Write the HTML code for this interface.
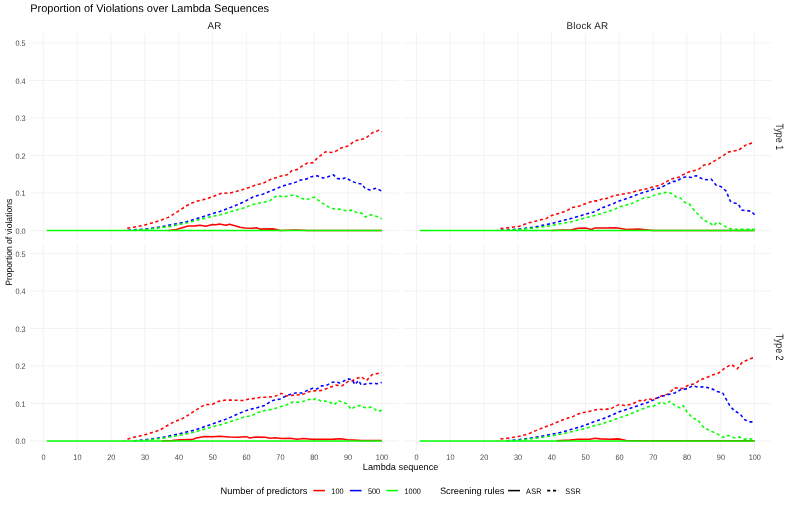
<!DOCTYPE html>
<html><head><meta charset="utf-8"><title>Proportion of Violations over Lambda Sequences</title>
<style>
html,body{margin:0;padding:0;background:#ffffff;}
body{width:793px;height:506px;position:relative;overflow:hidden;font-family:"Liberation Sans",sans-serif;}
</style></head><body>
<svg width="793" height="506" viewBox="0 0 793 506" style="display:block;position:absolute;left:0;top:0;will-change:transform;opacity:0.999" font-family="Liberation Sans, sans-serif" text-rendering="geometricPrecision">
<rect x="0" y="0" width="793" height="506" fill="#ffffff"/>
<path d="M30.00 230.52H398.50M30.00 193.01H398.50M30.00 155.50H398.50M30.00 118.00H398.50M30.00 80.49H398.50M30.00 42.98H398.50M43.37 33.60V239.90M77.20 33.60V239.90M111.04 33.60V239.90M144.88 33.60V239.90M178.72 33.60V239.90M212.56 33.60V239.90M246.40 33.60V239.90M280.23 33.60V239.90M314.07 33.60V239.90M347.91 33.60V239.90M381.75 33.60V239.90M403.00 230.52H771.30M403.00 193.01H771.30M403.00 155.50H771.30M403.00 118.00H771.30M403.00 80.49H771.30M403.00 42.98H771.30M416.36 33.60V239.90M450.18 33.60V239.90M484.00 33.60V239.90M517.82 33.60V239.90M551.64 33.60V239.90M585.46 33.60V239.90M619.28 33.60V239.90M653.10 33.60V239.90M686.92 33.60V239.90M720.74 33.60V239.90M754.56 33.60V239.90M30.00 440.93H398.50M30.00 403.44H398.50M30.00 365.95H398.50M30.00 328.45H398.50M30.00 290.96H398.50M30.00 253.47H398.50M43.37 244.10V450.30M77.20 244.10V450.30M111.04 244.10V450.30M144.88 244.10V450.30M178.72 244.10V450.30M212.56 244.10V450.30M246.40 244.10V450.30M280.23 244.10V450.30M314.07 244.10V450.30M347.91 244.10V450.30M381.75 244.10V450.30M403.00 440.93H771.30M403.00 403.44H771.30M403.00 365.95H771.30M403.00 328.45H771.30M403.00 290.96H771.30M403.00 253.47H771.30M416.36 244.10V450.30M450.18 244.10V450.30M484.00 244.10V450.30M517.82 244.10V450.30M551.64 244.10V450.30M585.46 244.10V450.30M619.28 244.10V450.30M653.10 244.10V450.30M686.92 244.10V450.30M720.74 244.10V450.30M754.56 244.10V450.30" stroke="#ebebeb" stroke-width="0.6" fill="none"/>
<g fill="none" stroke-width="1.55" stroke-linejoin="round">
<polyline points="124.58,230.52 127.96,228.08 136.42,226.77 144.88,225.01 153.34,222.65 161.46,220.02 168.23,217.39 175.00,213.27 181.43,209.14 186.50,205.77 191.58,203.14 196.65,201.27 203.08,199.77 212.56,196.76 220.00,193.76 223.39,192.86 228.12,193.39 236.58,191.36 246.40,188.51 256.55,184.76 262.98,183.34 271.44,179.14 280.23,176.36 287.34,174.63 292.08,170.51 297.49,169.38 303.24,165.33 307.31,163.01 313.06,162.74 317.12,158.24 325.58,151.75 331.33,152.50 335.39,151.38 341.14,148.00 347.91,145.94 355.02,140.88 362.12,139.15 366.18,137.76 371.94,133.00 379.04,130.26 381.75,131.87" stroke="#ff0000" stroke-dasharray="3.1 2.7" stroke-dashoffset="2.43"/>
<polyline points="168.23,230.41 175.00,229.87 181.43,228.01 188.19,226.02 194.96,225.87 200.04,225.35 205.79,226.17 212.56,224.52 215.94,224.67 219.33,224.03 225.76,225.35 229.48,224.18 233.20,225.35 239.97,227.15 245.04,228.01 253.16,228.35 256.55,227.67 259.93,229.12 273.13,228.87 280.23,230.41 296.48,230.10 307.31,230.41 381.75,230.41" stroke="#ff0000"/>
<polyline points="127.96,230.15 144.88,229.17 153.34,228.01 161.46,226.77 169.92,225.01 178.72,223.40 186.50,221.67 194.96,219.27 203.08,216.64 212.56,213.64 220.00,211.39 228.12,208.39 236.58,205.02 245.04,201.27 252.15,197.51 253.16,196.76 262.98,194.14 273.13,190.01 280.23,187.01 287.34,184.50 293.77,183.00 300.54,180.00 306.29,179.14 311.37,176.66 317.12,175.83 323.21,178.01 327.95,176.66 333.36,174.82 337.08,178.39 341.48,179.14 345.88,177.63 350.62,180.64 356.03,183.00 361.79,184.01 365.17,188.51 369.91,190.01 376.34,188.14 381.75,191.21" stroke="#0000ff" stroke-dasharray="3.1 2.7" stroke-dashoffset="0.01"/>
<polyline points="131.35,230.34 144.88,229.77 161.46,227.52 169.92,226.40 178.72,224.71 186.50,223.02 194.96,220.85 203.08,218.67 212.56,216.34 220.00,214.77 228.12,212.52 236.58,210.01 245.04,207.64 252.15,204.64 256.55,203.67 269.74,200.89 273.81,197.51 278.20,195.34 282.94,197.14 289.71,195.34 295.46,195.34 300.54,197.89 305.61,199.77 310.69,198.34 314.07,197.14 318.13,200.14 323.21,203.67 328.62,206.89 334.04,208.99 341.14,209.26 346.56,211.02 351.30,210.12 356.03,212.14 361.79,213.16 365.17,217.02 370.58,214.77 376.34,216.34 381.75,218.71" stroke="#00ff00" stroke-dasharray="3.1 2.7" stroke-dashoffset="3.40"/>
<polyline points="46.75,230.52 381.75,230.52" stroke="#00ff00"/>
</g>
<g fill="none" stroke-width="1.55" stroke-linejoin="round">
<polyline points="497.53,230.52 500.91,228.46 510.38,227.52 519.51,226.17 528.64,222.87 538.45,220.51 546.90,218.14 551.64,215.52 561.78,212.52 566.86,210.87 571.59,207.64 578.36,206.37 585.46,203.67 593.24,200.89 598.31,200.89 603.05,198.34 606.43,198.64 613.19,195.86 619.28,194.66 629.76,192.86 638.22,190.50 648.03,188.66 653.10,186.64 659.86,185.36 667.98,180.86 673.05,178.39 678.80,177.26 683.20,174.63 689.62,171.63 698.08,169.76 703.83,164.99 708.23,164.66 714.65,160.83 720.74,157.15 728.18,152.13 733.25,151.00 738.33,150.33 745.77,145.11 749.82,143.65 754.56,142.19" stroke="#ff0000" stroke-dasharray="3.1 2.7" stroke-dashoffset="2.39"/>
<polyline points="551.64,230.41 563.48,230.10 571.59,229.87 578.36,228.35 585.46,227.90 591.55,229.42 594.93,227.90 606.43,228.01 614.88,227.67 619.28,228.35 626.38,229.42 638.22,229.12 653.10,230.41 670.01,230.41 754.56,230.41" stroke="#ff0000"/>
<polyline points="500.91,230.34 507.00,230.04 517.82,229.17 528.64,227.90 538.45,226.17 551.64,223.40 561.78,220.85 571.59,218.37 578.36,216.34 585.46,214.17 593.24,212.14 603.05,207.53 613.19,203.67 619.28,200.89 629.76,197.51 638.22,194.14 646.34,191.66 653.10,189.26 659.86,188.02 666.29,184.76 673.05,181.39 676.43,181.39 681.51,178.01 686.92,176.66 691.32,177.52 696.05,175.68 703.15,179.32 708.56,179.89 711.27,179.14 716.00,184.95 721.08,186.64 726.15,191.14 730.38,201.27 734.27,202.95 738.16,203.78 741.71,210.08 746.78,210.79 751.18,211.21 754.56,214.77" stroke="#0000ff" stroke-dasharray="3.1 2.7" stroke-dashoffset="5.77"/>
<polyline points="504.29,230.34 517.82,229.77 538.45,227.52 551.64,225.53 561.78,223.40 571.59,221.67 585.46,217.84 593.24,215.89 603.05,213.01 613.19,210.01 619.28,207.00 631.45,203.67 642.95,198.34 649.72,197.14 656.48,194.14 661.55,193.39 667.30,192.00 672.38,193.76 676.43,197.14 680.49,198.00 684.89,202.50 689.62,204.27 695.04,211.39 699.77,215.89 703.83,220.40 709.58,222.57 713.64,225.83 717.02,222.27 723.11,225.05 728.18,228.46 734.27,229.21 754.56,229.28" stroke="#00ff00" stroke-dasharray="3.1 2.7" stroke-dashoffset="3.35"/>
<polyline points="419.74,230.52 754.56,230.52" stroke="#00ff00"/>
</g>
<g fill="none" stroke-width="1.55" stroke-linejoin="round">
<polyline points="124.58,440.93 127.96,438.94 136.42,436.73 144.88,434.63 153.34,432.23 159.77,430.13 168.23,425.03 175.00,421.39 181.43,419.26 188.19,415.13 194.96,410.63 200.04,407.64 204.78,404.71 212.56,404.26 218.31,401.37 224.74,400.14 233.20,400.14 243.35,400.51 249.78,398.90 254.86,398.38 261.29,397.21 268.05,397.21 274.82,396.39 281.25,393.39 286.33,395.90 294.79,395.04 302.23,394.74 307.98,392.04 314.07,390.88 321.52,390.54 327.95,388.14 335.73,385.14 342.16,385.82 347.91,381.50 352.31,380.75 356.71,378.58 361.45,376.82 366.52,380.57 371.94,374.76 377.35,373.59 381.75,372.69" stroke="#ff0000" stroke-dasharray="3.1 2.7" stroke-dashoffset="2.43"/>
<polyline points="161.80,440.93 171.95,440.55 180.41,439.88 192.26,439.62 196.32,437.97 204.44,436.50 212.90,436.84 219.33,436.35 229.14,436.99 237.26,437.18 246.40,436.65 249.78,437.97 255.53,436.99 265.35,437.18 270.08,438.15 275.16,437.67 281.59,438.45 290.05,438.15 297.15,439.20 303.24,438.49 311.37,439.35 322.53,439.35 334.04,439.13 340.81,438.79 347.57,439.69 353.33,440.03 361.45,440.48 381.75,440.48" stroke="#ff0000"/>
<polyline points="131.35,440.74 136.42,440.63 144.88,439.73 153.34,438.75 161.46,437.63 169.92,435.87 178.72,433.88 186.50,432.00 194.96,430.13 203.08,427.21 212.56,423.87 220.00,421.21 228.12,418.40 236.58,414.53 245.04,410.90 252.15,408.87 254.86,408.39 264.67,405.54 271.44,400.89 280.23,398.90 288.02,395.04 295.46,392.90 302.23,393.01 307.98,390.01 313.06,388.14 317.12,388.89 321.52,385.89 326.26,385.40 332.35,382.22 336.41,382.14 339.79,383.04 344.87,380.45 348.59,378.88 352.31,379.82 355.02,384.69 358.40,380.49 361.45,385.07 366.86,383.57 373.63,383.42 377.35,383.75 381.75,382.44" stroke="#0000ff" stroke-dasharray="3.1 2.7" stroke-dashoffset="3.40"/>
<polyline points="131.35,440.74 144.88,440.36 161.46,438.38 169.92,437.03 178.72,435.53 186.50,433.88 194.96,432.00 203.08,429.53 212.56,426.76 220.00,425.03 228.12,422.26 236.58,419.63 245.04,416.71 251.47,415.88 257.90,412.55 266.36,410.03 273.13,409.21 280.23,406.74 286.33,405.01 293.09,402.01 299.86,402.24 304.60,400.89 309.00,399.24 313.06,399.76 316.44,398.38 320.50,400.89 328.29,401.45 334.38,404.64 338.10,400.62 346.73,403.81 351.30,409.43 354.85,406.62 360.09,405.50 364.83,407.64 371.94,407.19 378.03,411.53 381.75,410.18" stroke="#00ff00" stroke-dasharray="3.1 2.7" stroke-dashoffset="3.40"/>
<polyline points="46.75,440.93 381.75,440.93" stroke="#00ff00"/>
</g>
<g fill="none" stroke-width="1.55" stroke-linejoin="round">
<polyline points="497.53,440.93 500.91,438.90 507.33,438.27 513.42,437.33 519.51,436.20 528.64,433.73 538.45,429.53 546.90,426.23 551.64,424.51 560.09,420.87 566.86,418.40 573.28,416.37 581.74,412.55 586.47,412.21 593.24,410.37 598.31,409.21 604.74,409.51 611.50,408.39 618.94,404.64 624.69,405.54 631.45,404.26 639.91,400.40 642.95,401.37 647.35,398.90 653.10,399.54 661.55,395.90 667.98,393.88 674.74,387.88 683.20,388.40 688.95,384.77 694.70,383.90 699.77,380.04 706.53,377.64 712.96,374.72 718.03,373.44 724.46,368.38 731.22,364.45 737.31,368.76 742.38,362.20 746.78,360.32 752.19,358.07 754.56,358.30" stroke="#ff0000" stroke-dasharray="3.1 2.7" stroke-dashoffset="2.39"/>
<polyline points="556.71,440.81 569.90,440.13 578.36,439.20 589.86,439.20 595.27,438.23 600.00,438.87 609.81,439.20 618.26,438.87 626.38,440.43 642.95,440.73 659.86,440.81 674.74,440.81 686.92,440.81 754.56,440.81" stroke="#ff0000"/>
<polyline points="504.29,440.74 510.38,440.63 517.82,439.73 528.64,438.38 538.45,436.73 551.64,434.25 561.78,432.23 571.59,429.23 578.36,427.51 585.46,425.03 593.24,422.03 603.05,418.73 613.19,414.53 619.28,411.76 629.76,408.39 639.91,405.01 647.35,402.54 653.10,400.14 659.86,396.76 666.29,395.04 674.74,393.01 681.51,389.26 686.92,388.89 692.33,385.89 698.08,387.02 704.84,386.83 710.93,388.33 717.36,391.44 722.77,393.13 726.83,400.44 730.21,406.32 734.61,410.93 740.02,413.93 744.75,419.78 749.82,421.88 754.56,421.88" stroke="#0000ff" stroke-dasharray="3.1 2.7" stroke-dashoffset="3.35"/>
<polyline points="504.29,440.74 517.82,440.36 538.45,437.89 551.64,435.87 561.78,433.88 571.59,431.70 585.46,428.37 593.24,425.89 603.05,423.38 613.19,420.01 619.28,417.87 629.76,414.23 639.91,410.03 648.03,406.74 653.10,406.21 661.22,402.01 666.29,404.26 669.67,401.37 674.07,404.64 679.82,407.90 683.20,405.54 686.92,411.76 693.01,418.40 697.40,419.44 703.83,427.51 710.59,431.03 717.36,433.88 723.44,437.40 728.52,435.49 734.27,437.85 739.34,437.07 744.75,439.24 750.84,438.87 754.56,439.43" stroke="#00ff00" stroke-dasharray="3.1 2.7" stroke-dashoffset="3.35"/>
<polyline points="419.74,440.93 754.56,440.93" stroke="#00ff00"/>
</g>
<text x="30.2" y="11.7" font-size="11" fill="#000000">Proportion of Violations over Lambda Sequences</text>
<text x="214.55" y="28.7" font-size="9.8" letter-spacing="0.28" fill="#1a1a1a" text-anchor="middle">AR</text>
<text x="587.45" y="28.7" font-size="9.8" letter-spacing="0.28" fill="#1a1a1a" text-anchor="middle">Block AR</text>
<text transform="translate(776.2 136.75) rotate(90) scale(0.83 1)" font-size="10.7" fill="#1a1a1a" text-anchor="middle">Type 1</text>
<text transform="translate(776.2 347.20) rotate(90) scale(0.83 1)" font-size="10.7" fill="#1a1a1a" text-anchor="middle">Type 2</text>
<text transform="translate(25.6 233.72) scale(1.0 1.1)" font-size="7.33" fill="#4d4d4d" text-anchor="end">0.0</text>
<text transform="translate(25.6 196.21) scale(1.0 1.1)" font-size="7.33" fill="#4d4d4d" text-anchor="end">0.1</text>
<text transform="translate(25.6 158.70) scale(1.0 1.1)" font-size="7.33" fill="#4d4d4d" text-anchor="end">0.2</text>
<text transform="translate(25.6 121.20) scale(1.0 1.1)" font-size="7.33" fill="#4d4d4d" text-anchor="end">0.3</text>
<text transform="translate(25.6 83.69) scale(1.0 1.1)" font-size="7.33" fill="#4d4d4d" text-anchor="end">0.4</text>
<text transform="translate(25.6 46.18) scale(1.0 1.1)" font-size="7.33" fill="#4d4d4d" text-anchor="end">0.5</text>
<text transform="translate(25.6 444.13) scale(1.0 1.1)" font-size="7.33" fill="#4d4d4d" text-anchor="end">0.0</text>
<text transform="translate(25.6 406.64) scale(1.0 1.1)" font-size="7.33" fill="#4d4d4d" text-anchor="end">0.1</text>
<text transform="translate(25.6 369.15) scale(1.0 1.1)" font-size="7.33" fill="#4d4d4d" text-anchor="end">0.2</text>
<text transform="translate(25.6 331.65) scale(1.0 1.1)" font-size="7.33" fill="#4d4d4d" text-anchor="end">0.3</text>
<text transform="translate(25.6 294.16) scale(1.0 1.1)" font-size="7.33" fill="#4d4d4d" text-anchor="end">0.4</text>
<text transform="translate(25.6 256.67) scale(1.0 1.1)" font-size="7.33" fill="#4d4d4d" text-anchor="end">0.5</text>
<text transform="translate(43.57 460.0) scale(1.0 1.1)" font-size="7.33" fill="#4d4d4d" text-anchor="middle">0</text>
<text transform="translate(77.40 460.0) scale(1.0 1.1)" font-size="7.33" fill="#4d4d4d" text-anchor="middle">10</text>
<text transform="translate(111.24 460.0) scale(1.0 1.1)" font-size="7.33" fill="#4d4d4d" text-anchor="middle">20</text>
<text transform="translate(145.08 460.0) scale(1.0 1.1)" font-size="7.33" fill="#4d4d4d" text-anchor="middle">30</text>
<text transform="translate(178.92 460.0) scale(1.0 1.1)" font-size="7.33" fill="#4d4d4d" text-anchor="middle">40</text>
<text transform="translate(212.76 460.0) scale(1.0 1.1)" font-size="7.33" fill="#4d4d4d" text-anchor="middle">50</text>
<text transform="translate(246.60 460.0) scale(1.0 1.1)" font-size="7.33" fill="#4d4d4d" text-anchor="middle">60</text>
<text transform="translate(280.43 460.0) scale(1.0 1.1)" font-size="7.33" fill="#4d4d4d" text-anchor="middle">70</text>
<text transform="translate(314.27 460.0) scale(1.0 1.1)" font-size="7.33" fill="#4d4d4d" text-anchor="middle">80</text>
<text transform="translate(348.11 460.0) scale(1.0 1.1)" font-size="7.33" fill="#4d4d4d" text-anchor="middle">90</text>
<text transform="translate(381.95 460.0) scale(1.0 1.1)" font-size="7.33" fill="#4d4d4d" text-anchor="middle">100</text>
<text transform="translate(416.56 460.0) scale(1.0 1.1)" font-size="7.33" fill="#4d4d4d" text-anchor="middle">0</text>
<text transform="translate(450.38 460.0) scale(1.0 1.1)" font-size="7.33" fill="#4d4d4d" text-anchor="middle">10</text>
<text transform="translate(484.20 460.0) scale(1.0 1.1)" font-size="7.33" fill="#4d4d4d" text-anchor="middle">20</text>
<text transform="translate(518.02 460.0) scale(1.0 1.1)" font-size="7.33" fill="#4d4d4d" text-anchor="middle">30</text>
<text transform="translate(551.84 460.0) scale(1.0 1.1)" font-size="7.33" fill="#4d4d4d" text-anchor="middle">40</text>
<text transform="translate(585.66 460.0) scale(1.0 1.1)" font-size="7.33" fill="#4d4d4d" text-anchor="middle">50</text>
<text transform="translate(619.48 460.0) scale(1.0 1.1)" font-size="7.33" fill="#4d4d4d" text-anchor="middle">60</text>
<text transform="translate(653.30 460.0) scale(1.0 1.1)" font-size="7.33" fill="#4d4d4d" text-anchor="middle">70</text>
<text transform="translate(687.12 460.0) scale(1.0 1.1)" font-size="7.33" fill="#4d4d4d" text-anchor="middle">80</text>
<text transform="translate(720.94 460.0) scale(1.0 1.1)" font-size="7.33" fill="#4d4d4d" text-anchor="middle">90</text>
<text transform="translate(754.76 460.0) scale(1.0 1.1)" font-size="7.33" fill="#4d4d4d" text-anchor="middle">100</text>
<text x="400.6" y="469.5" font-size="9.2" fill="#000000" text-anchor="middle">Lambda sequence</text>
<text transform="translate(11.7 242.3) rotate(-90) scale(1 1.07)" font-size="8.55" fill="#000000" text-anchor="middle">Proportion of violations</text>
<text x="220.6" y="493.90000000000003" font-size="9.3" fill="#000000">Number of predictors</text>
<path d="M313.3 490.6H325" stroke="#ff0000" stroke-width="1.55"/>
<text transform="translate(331.3 493.5) scale(1 1.1)" font-size="7.33" fill="#000000">100</text>
<path d="M349.9 490.6H361.6" stroke="#0000ff" stroke-width="1.55"/>
<text transform="translate(367.9 493.5) scale(1 1.1)" font-size="7.33" fill="#000000">500</text>
<path d="M386.4 490.6H398.1" stroke="#00ff00" stroke-width="1.55"/>
<text transform="translate(404.5 493.5) scale(1 1.1)" font-size="7.33" fill="#000000">1000</text>
<text x="439.9" y="493.90000000000003" font-size="9.3" fill="#000000">Screening rules</text>
<path d="M508.2 490.6H520" stroke="#000000" stroke-width="1.55"/>
<text transform="translate(526 493.5) scale(1 1.1)" font-size="7.33" letter-spacing="0.25" fill="#000000">ASR</text>
<path d="M547.2 490.6H559" stroke="#000000" stroke-width="1.55" stroke-dasharray="3.1 2.7"/>
<text transform="translate(565.3 493.5) scale(1 1.1)" font-size="7.33" letter-spacing="0.25" fill="#000000">SSR</text>
</svg>
</body></html>
